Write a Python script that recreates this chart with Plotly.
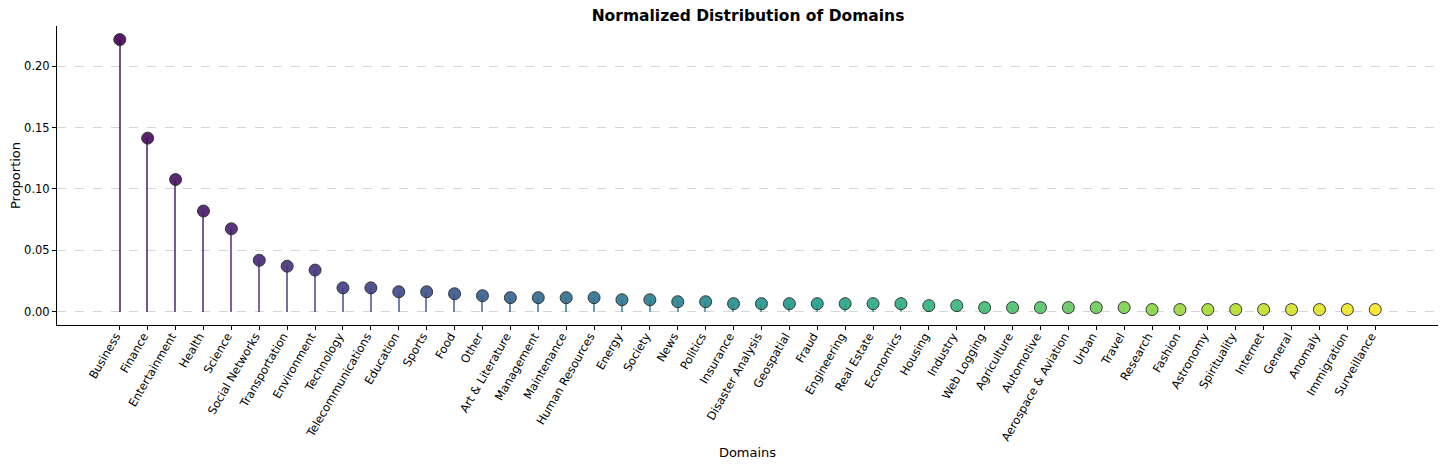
import plotly.graph_objects as go
from plotly.colors import sample_colorscale

# domains, sorted by share
domains = [
    "Business", "Finance", "Entertainment", "Health", "Science", "Social Networks",
    "Transportation", "Environment", "Technology", "Telecommunications", "Education",
    "Sports", "Food", "Other", "Art & Literature", "Management", "Maintenance",
    "Human Resources", "Energy", "Society", "News", "Politics", "Insurance",
    "Disaster Analysis", "Geospatial", "Fraud", "Engineering", "Real Estate",
    "Economics", "Housing", "Industry", "Web Logging", "Agriculture", "Automotive",
    "Aerospace & Aviation", "Urban", "Travel", "Research", "Fashion", "Astronomy",
    "Spirituality", "Internet", "General", "Anomaly", "Immigration", "Surveillance",
]

proportion = [
    0.2219, 0.1415, 0.1077, 0.0820, 0.0675, 0.0418,
    0.0370, 0.0338, 0.0193, 0.0193, 0.0161,
    0.0161, 0.0145, 0.0129, 0.0113, 0.0113, 0.0113,
    0.0113, 0.0096, 0.0096, 0.0080, 0.0080, 0.0064,
    0.0064, 0.0064, 0.0064, 0.0064, 0.0064,
    0.0064, 0.0048, 0.0048, 0.0032, 0.0032, 0.0032,
    0.0032, 0.0032, 0.0032, 0.0016, 0.0016, 0.0016,
    0.0016, 0.0016, 0.0016, 0.0016, 0.0016, 0.0016,
]

y_ticks = [0.0, 0.05, 0.10, 0.15, 0.20]

n = len(domains)
colors = sample_colorscale("Viridis", [i / (n - 1) for i in range(n)])
font = "DejaVu Sans"

fig = go.Figure()

# stems
fig.add_trace(go.Bar(
    x=domains, y=proportion, width=0.05,
    marker=dict(color=colors, line=dict(width=0)),
    opacity=0.7, hoverinfo="skip", showlegend=False,
))

# heads
fig.add_trace(go.Scatter(
    x=domains, y=proportion, mode="markers",
    marker=dict(size=12, color=colors, opacity=0.9,
                line=dict(color="#222222", width=1)),
    showlegend=False,
))

# page body has an 8px margin, so the figure is a bit smaller than the window
fig.update_layout(
    width=1439, height=457,
    margin=dict(l=49, r=9, t=18, b=140),
    paper_bgcolor="white", plot_bgcolor="white",
    font=dict(family=font, size=11.5, color="black"),
    title=dict(text="<b>Normalized Distribution of Domains</b>",
               x=740 / 1439, xanchor="center", y=0.995, yanchor="top",
               font=dict(size=15.5, family=font, color="black")),
    bargap=0,
)

fig.update_xaxes(
    range=[-2.25, 47.25], tickangle=-60, automargin=False,
    ticklabelstandoff=-5, ticklabelshift=-4,
    showline=True, linecolor="black", linewidth=1,
    ticks="outside", ticklen=4, tickcolor="black",
    showgrid=False, zeroline=False,
    title=dict(text="Domains", font=dict(size=13), standoff=5),
)

fig.update_yaxes(
    range=[-0.011, 0.233], automargin=False,
    tickvals=y_ticks, ticktext=[f"{v:.2f}" for v in y_ticks],
    showline=True, linecolor="black", linewidth=1,
    ticks="outside", ticklen=4, tickcolor="black",
    showgrid=True, gridcolor="#d6d6d6", griddash="dash", gridwidth=0.8,
    zeroline=False,
    title=dict(text="Proportion", font=dict(size=13), standoff=8),
)

fig.write_html("out.html")
